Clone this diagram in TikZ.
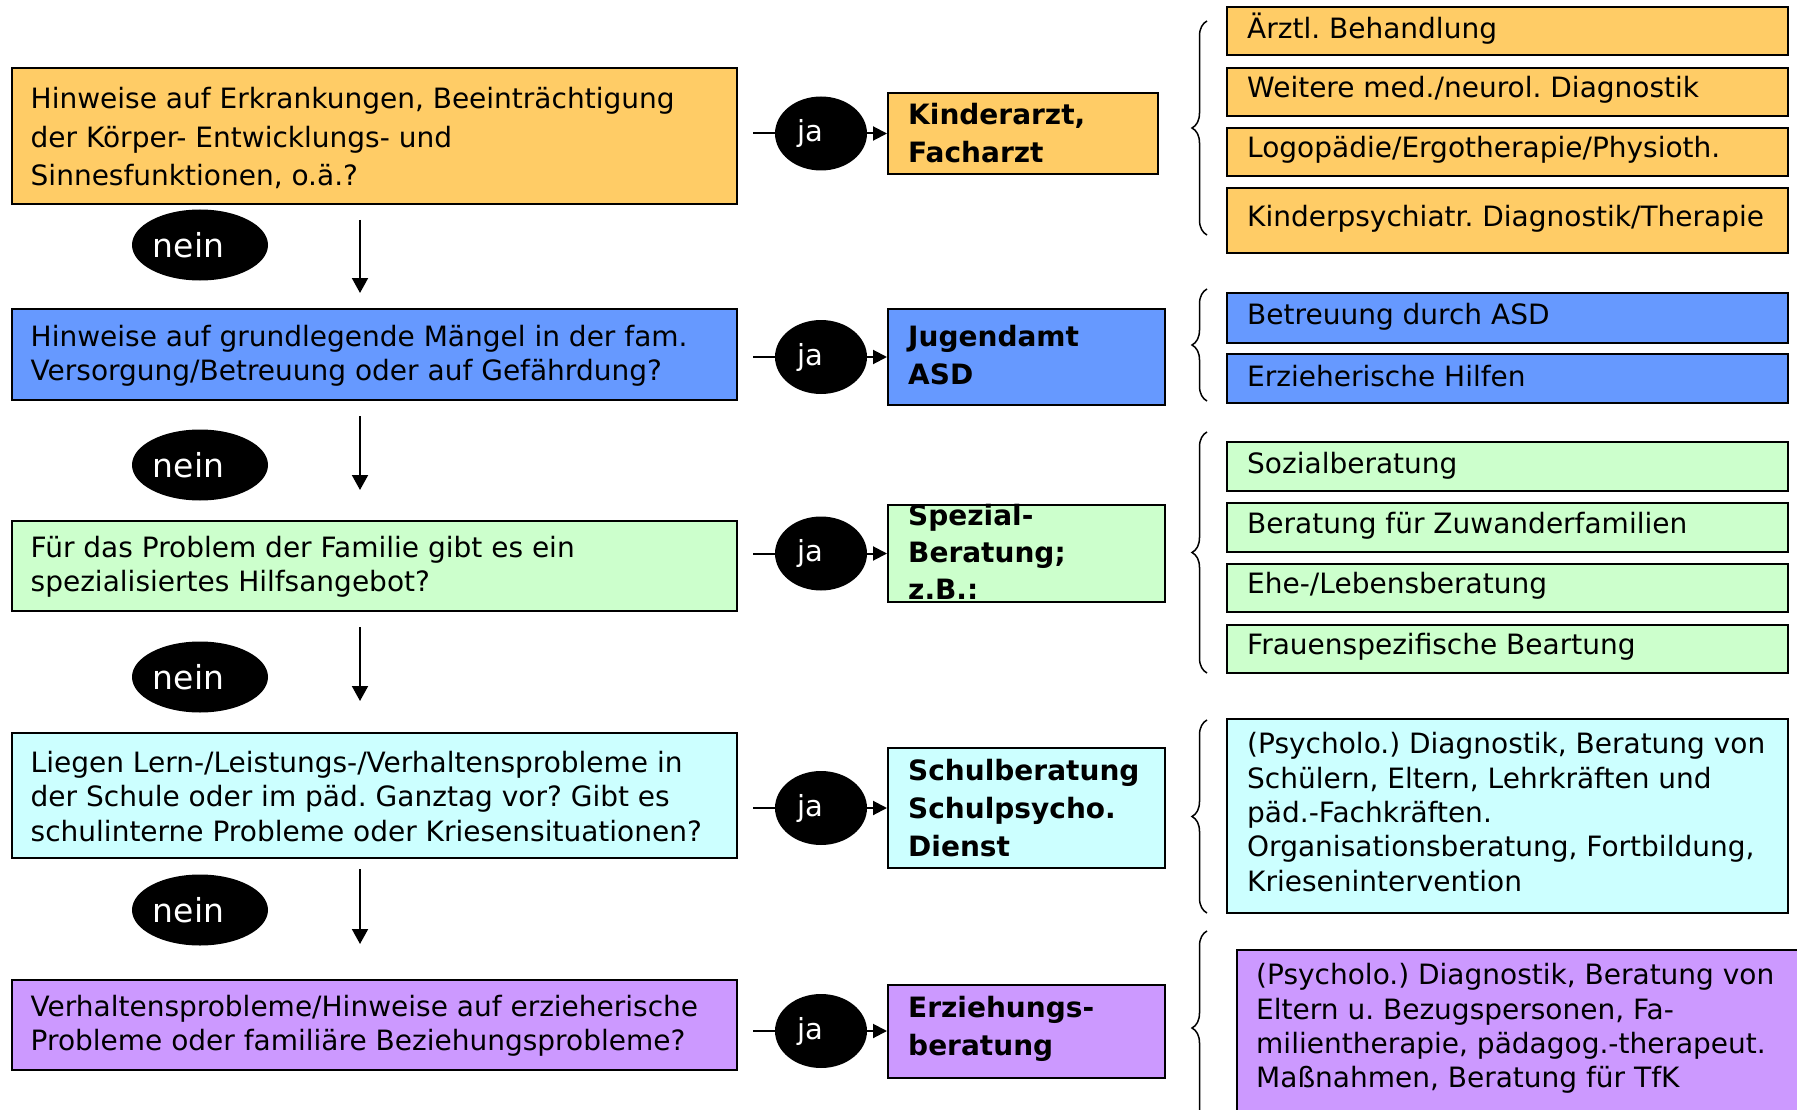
\documentclass[tikz,border=0pt]{standalone}
\usepackage{fontspec}
\setmainfont{DejaVu Sans}
\usetikzlibrary{arrows.meta,shapes.geometric,decorations.pathreplacing}
\definecolor{cOrange}{HTML}{FFCC66}
\definecolor{cBlue}{HTML}{6699FF}
\definecolor{cGreen}{HTML}{CCFFCC}
\definecolor{cCyan}{HTML}{CCFFFF}
\definecolor{cPurple}{HTML}{CC99FF}
\frenchspacing
\begin{document}
\begin{tikzpicture}[x=1pt,y=-1pt,
  boxshape/.style={draw=black,line width=2pt,inner sep=0pt,rectangle},
  qtext/.style={anchor=west,align=left,inner sep=0pt,font=\fontsize{28}{34.4}\selectfont},
  btext/.style={anchor=west,align=left,inner sep=0pt,font=\fontsize{28}{38}\selectfont\bfseries},
  rtext/.style={anchor=west,align=left,inner sep=0pt,font=\fontsize{28}{34.4}\selectfont},
  jael/.style={ellipse,fill=black,text=white,inner sep=0pt,minimum width=92pt,minimum height=74pt,font=\fontsize{29}{36}\selectfont},
  neinel/.style={ellipse,fill=black,text=white,inner sep=0pt,minimum width=136pt,minimum height=71pt,font=\fontsize{33}{38}\selectfont},
  conn/.style={line width=2pt},
  jarr/.style={line width=2pt,-{Triangle[length=14pt,width=14pt]}},
  darr/.style={line width=2pt,-{Triangle[length=15pt,width=16pt]}},
  brc/.style={line width=1.5pt,decorate,decoration={brace,amplitude=15pt}}]
\useasboundingbox (0,0) rectangle (1797,1110);
\clip (0,0) rectangle (1797,1110);

% ---------- left question boxes ----------
\node[boxshape,fill=cOrange,minimum width=725pt,minimum height=136pt] (l1) at (374,136) {};
\node[qtext,font=\fontsize{28}{38.4}\selectfont] (l1t) at ([xshift=20pt,yshift=-2pt]l1.west) {Hinweise auf Erkrankungen, Beeinträchtigung\\der Körper- Entwicklungs- und\\Sinnesfunktionen, o.ä.?};

\node[boxshape,fill=cBlue,minimum width=725pt,minimum height=91pt] (l2) at (374,354.5) {};
\node[qtext] (l2t) at ([xshift=20pt,yshift=-1pt]l2.west) {Hinweise auf grundlegende Mängel in der fam.\\Versorgung/Betreuung oder auf Gefährdung?};

\node[boxshape,fill=cGreen,minimum width=725pt,minimum height=90pt] (l3) at (374,566) {};
\node[qtext] (l3t) at ([xshift=20pt,yshift=-1pt]l3.west) {Für das Problem der Familie gibt es ein\\spezialisiertes Hilfsangebot?};

\node[boxshape,fill=cCyan,minimum width=725pt,minimum height=125pt] (l4) at (374,795.5) {};
\node[qtext] (l4t) at ([xshift=20pt,yshift=-1pt]l4.west) {Liegen Lern-/Leistungs-/Verhaltensprobleme in\\der Schule oder im päd. Ganztag vor? Gibt es\\schulinterne Probleme oder Kriesensituationen?};

\node[boxshape,fill=cPurple,minimum width=725pt,minimum height=90pt] (l5) at (374,1025) {};
\node[qtext] (l5t) at ([xshift=20pt,yshift=-1pt]l5.west) {Verhaltensprobleme/Hinweise auf erzieherische\\Probleme oder familiäre Beziehungsprobleme?};

% ---------- nein ellipses and down arrows ----------
\node[neinel] (n1) at (200,245) {nein\hspace*{23pt}};
\node[neinel] (n2) at (200,465) {nein\hspace*{23pt}};
\node[neinel] (n3) at (200,677) {nein\hspace*{23pt}};
\node[neinel] (n4) at (200,910) {nein\hspace*{23pt}};
\coordinate (d1s) at (360,220); \coordinate (d1e) at (360,293);
\coordinate (d2s) at (360,416); \coordinate (d2e) at (360,490);
\coordinate (d3s) at (360,627); \coordinate (d3e) at (360,701);
\coordinate (d4s) at (360,869); \coordinate (d4e) at (360,944);
\draw[darr] (d1s) -- (d1e);
\draw[darr] (d2s) -- (d2e);
\draw[darr] (d3s) -- (d3e);
\draw[darr] (d4s) -- (d4e);

% ---------- middle boxes ----------
\node[boxshape,fill=cOrange,minimum width=270pt,minimum height=81pt] (m1) at (1023,133.5) {};
\node[btext] (m1t) at ([xshift=21pt]m1.west) {Kinderarzt,\\Facharzt};
\node[boxshape,fill=cBlue,minimum width=277pt,minimum height=96pt] (m2) at (1026.5,357) {};
\node[btext] (m2t) at ([xshift=21pt,yshift=2pt]m2.west) {Jugendamt\\ASD};
\node[boxshape,fill=cGreen,minimum width=277pt,minimum height=97pt] (m3) at (1026.5,553.5) {};
\node[btext,font=\fontsize{28}{37}\selectfont\bfseries] (m3t) at ([xshift=21pt,yshift=2pt]m3.west) {Spezial-\\Beratung;\\z.B.:};
\node[boxshape,fill=cCyan,minimum width=277pt,minimum height=120pt] (m4) at (1026.5,808) {};
\node[btext] (m4t) at ([xshift=21pt]m4.west) {Schulberatung\\Schulpsycho.\\Dienst};
\node[boxshape,fill=cPurple,minimum width=277pt,minimum height=93pt] (m5) at (1026.5,1031) {};
\node[btext] (m5t) at ([xshift=21pt,yshift=2pt]m5.west) {Erziehungs-\\beratung};

% ---------- ja ellipses and connectors ----------
\coordinate (s1) at (753,133.5);
\coordinate (s2) at (753,357);
\coordinate (s3) at (753,553.5);
\coordinate (s4) at (753,808);
\coordinate (s5) at (753,1031);
\node[jael] (j1) at (821,133.5) {ja\hspace*{22pt}};
\node[jael] (j2) at (821,357) {ja\hspace*{22pt}};
\node[jael] (j3) at (821,553.5) {ja\hspace*{22pt}};
\node[jael] (j4) at (821,808) {ja\hspace*{22pt}};
\node[jael] (j5) at (821,1031) {ja\hspace*{22pt}};
\draw[conn] (s1) -- (j1); \draw[jarr] (j1) -- (m1);
\draw[conn] (s2) -- (j2); \draw[jarr] (j2) -- (m2);
\draw[conn] (s3) -- (j3); \draw[jarr] (j3) -- (m3);
\draw[conn] (s4) -- (j4); \draw[jarr] (j4) -- (m4);
\draw[conn] (s5) -- (j5); \draw[jarr] (j5) -- (m5);

% ---------- right boxes ----------
\node[boxshape,fill=cOrange,minimum width=561pt,minimum height=48pt] (r11) at (1507.5,31) {};
\node[rtext] (r11t) at ([xshift=21pt,yshift=2pt]r11.west) {Ärztl. Behandlung};
\node[boxshape,fill=cOrange,minimum width=561pt,minimum height=48pt] (r12) at (1507.5,92) {};
\node[rtext] (r12t) at ([xshift=21pt,yshift=2pt]r12.west) {Weitere med./neurol. Diagnostik};
\node[boxshape,fill=cOrange,minimum width=561pt,minimum height=48pt] (r13) at (1507.5,152) {};
\node[rtext] (r13t) at ([xshift=21pt,yshift=2pt]r13.west) {Logopädie/Ergotherapie/Physioth.};
\node[boxshape,fill=cOrange,minimum width=561pt,minimum height=65pt] (r14) at (1507.5,220.5) {};
\node[rtext] (r14t) at ([xshift=21pt,yshift=2pt]r14.west) {Kinderpsychiatr. Diagnostik/Therapie};

\node[boxshape,fill=cBlue,minimum width=561pt,minimum height=50pt] (r21) at (1507.5,318) {};
\node[rtext] (r21t) at ([xshift=21pt,yshift=1pt]r21.west) {Betreuung durch ASD};
\node[boxshape,fill=cBlue,minimum width=561pt,minimum height=49pt] (r22) at (1507.5,378.5) {};
\node[rtext] (r22t) at ([xshift=21pt,yshift=2pt]r22.west) {Erzieherische Hilfen};

\node[boxshape,fill=cGreen,minimum width=561pt,minimum height=49pt] (r31) at (1507.5,466.5) {};
\node[rtext] (r31t) at ([xshift=21pt,yshift=1pt]r31.west) {Sozialberatung};
\node[boxshape,fill=cGreen,minimum width=561pt,minimum height=49pt] (r32) at (1507.5,527.5) {};
\node[rtext] (r32t) at ([xshift=21pt,yshift=2pt]r32.west) {Beratung für Zuwanderfamilien};
\node[boxshape,fill=cGreen,minimum width=561pt,minimum height=48pt] (r33) at (1507.5,588) {};
\node[rtext] (r33t) at ([xshift=21pt,yshift=2pt]r33.west) {Ehe-/Lebensberatung};
\node[boxshape,fill=cGreen,minimum width=561pt,minimum height=48pt] (r34) at (1507.5,649) {};
\node[rtext] (r34t) at ([xshift=21pt,yshift=2pt]r34.west) {Frauenspezifische Beartung};

\node[boxshape,fill=cCyan,minimum width=561pt,minimum height=194pt] (r41) at (1507.5,816) {};
\node[rtext] (r41t) at ([xshift=21pt,yshift=4pt]r41.west) {(Psycholo.) Diagnostik, Beratung von\\Schülern, Eltern, Lehrkräften und\\päd.-Fachkräften.\\Organisationsberatung, Fortbildung,\\Kriesenintervention};

\node[boxshape,fill=cPurple,minimum width=570pt,minimum height=175pt] (r51) at (1522,1037.5) {};
\node[rtext] (r51t) at ([xshift=20pt,yshift=9pt]r51.west) {(Psycholo.) Diagnostik, Beratung von\\Eltern u. Bezugspersonen, Fa-\\milientherapie, pädagog.-therapeut.\\Maßnahmen, Beratung für TfK};

% ---------- braces ----------
\coordinate (b1t) at (1207,21);  \coordinate (b1b) at (1207,235);
\coordinate (b2t) at (1207,289); \coordinate (b2b) at (1207,401);
\coordinate (b3t) at (1207,432); \coordinate (b3b) at (1207,673);
\coordinate (b4t) at (1207,720); \coordinate (b4b) at (1207,913);
\coordinate (b5t) at (1207,931); \coordinate (b5b) at (1207,1125);
\draw[brc] (b1b) -- (b1t);
\draw[brc] (b2b) -- (b2t);
\draw[brc] (b3b) -- (b3t);
\draw[brc] (b4b) -- (b4t);
\draw[brc] (b5b) -- (b5t);
\end{tikzpicture}
\end{document}
